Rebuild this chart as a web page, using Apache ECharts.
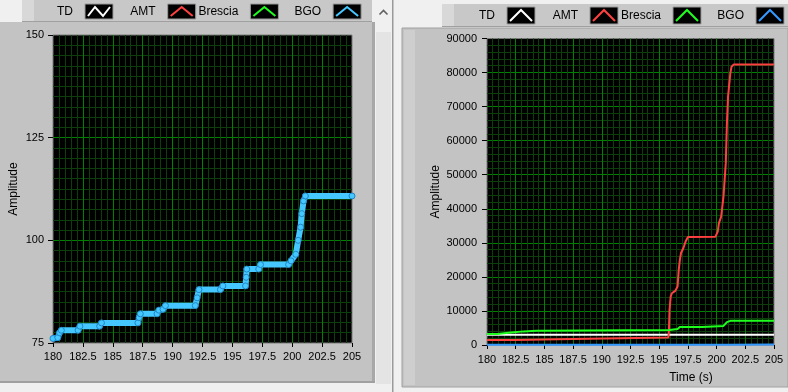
<!DOCTYPE html>
<html><head><meta charset="utf-8">
<script src="https://cdn.jsdelivr.net/npm/echarts@6/dist/echarts.min.js"></script>
<style>html,body{margin:0;padding:0;background:#f0f0f0;}#c{width:788px;height:392px;}</style>
</head><body><div id="c"></div>
<script>
// ---- data ----
const seriesNames = ['TD', 'AMT', 'Brescia', 'BGO'];
const seriesColors = ['#ffffff', '#ff4040', '#1eff1e', '#3399ff'];
const bgoLeftColor = '#44c8ff';

const timeMin = 180, timeMax = 205, timeStep = 2.5;
const leftAmpMin = 75, leftAmpMax = 150, leftAmpStep = 25;
const rightAmpMin = 0, rightAmpMax = 90000, rightAmpStep = 10000;
const yTitle = 'Amplitude';
const xTitle = 'Time (s)';

const tdData = [[180, 3000], [205, 3000]];

const amtData = [
  [180, 1450], [182.4, 1450], [182.5, 1820], [188.8, 1820], [188.9, 2170], [195.8, 2170],
  [195.85, 4400], [195.9, 10300], [196.0, 14200], [196.1, 15200], [196.4, 15900], [196.6, 17200],
  [196.7, 22000], [196.8, 25000], [196.9, 27000], [197.1, 28400], [197.3, 30400], [197.5, 31700],
  [199.9, 31800], [200.1, 33300], [200.2, 35800], [200.4, 37700], [200.5, 40700], [200.6, 43600],
  [200.7, 48500], [200.8, 53400], [200.85, 59300], [200.9, 65200], [201.0, 73000], [201.1, 76500],
  [201.2, 79900], [201.3, 81700], [201.5, 82400], [205, 82400]
];

const bresciaData = [
  [180, 3250], [180.9, 3250], [181.0, 3700], [182.1, 3700], [182.2, 4000], [183.2, 4000],
  [183.3, 4200], [184.3, 4200], [184.4, 4400], [195.9, 4400], [196.0, 4700], [196.6, 4700],
  [196.7, 5000], [196.8, 5300], [198.75, 5300], [198.85, 5600], [200.6, 5600], [200.7, 6100],
  [200.9, 6700], [201.2, 7100], [205, 7100]
];

const bgoData = [
  [180.0, 76.1], [180.4, 76.3], [180.55, 77.5], [180.7, 78.1], [182.1, 78.1], [182.25, 79.1],
  [183.9, 79.1], [184.05, 79.9], [187.1, 79.9], [187.2, 81.2], [187.3, 82.1], [188.7, 82.1],
  [188.85, 83.0], [189.2, 83.2], [189.4, 84.1], [191.9, 84.1], [192.05, 86.0], [192.2, 88.0],
  [194.0, 88.0], [194.2, 88.9], [196.1, 88.9], [196.15, 91.0], [196.2, 93.0], [197.2, 93.0],
  [197.35, 94.1], [199.7, 94.1], [199.9, 95.0], [200.3, 96.6], [200.5, 100.0], [200.7, 103.2],
  [200.8, 106.5], [200.95, 109.6], [201.1, 110.8], [205, 110.8]
];

const rightData = [tdData, amtData, bresciaData, bgoData];

// ---- styling helpers ----
const FONT = 'Liberation Sans, Arial, sans-serif';
const majorGrid = '#008200';
const minorGrid = '#0c3f0c';

function xAxisCfg(gridIndex, margin, showName) {
  return {
    type: 'value', gridIndex, min: timeMin, max: timeMax, interval: timeStep,
    axisLine: { show: false },
    axisTick: { show: true, length: 4, lineStyle: { color: '#000' } },
    axisLabel: { color: '#000', fontFamily: FONT, fontSize: 11, margin, interval: 0, formatter: v => String(v) },
    splitLine: { show: true, showMinLine: false, showMaxLine: false, lineStyle: { color: majorGrid, width: 1 } },
    minorTick: { show: false, splitNumber: 5 },
    minorSplitLine: { show: true, lineStyle: { color: minorGrid, width: 1 } },
    name: showName ? xTitle : '', nameLocation: 'middle', nameGap: 27,
    nameTextStyle: { color: '#000', fontFamily: FONT, fontSize: 12, padding: [0, 0, 0, 121] }
  };
}
function yAxisCfg(gridIndex, min, max, step, minorN, margin, nameGap) {
  return {
    type: 'value', gridIndex, min, max, interval: step,
    axisLine: { show: false },
    axisTick: { show: true, length: 5, lineStyle: { color: '#000' } },
    axisLabel: { color: '#000', fontFamily: FONT, fontSize: 11, margin, formatter: v => String(v) },
    splitLine: { show: true, showMinLine: false, showMaxLine: false, lineStyle: { color: majorGrid, width: 1 } },
    minorTick: { show: false, splitNumber: minorN },
    minorSplitLine: { show: true, lineStyle: { color: minorGrid, width: 1 } },
    name: yTitle, nameLocation: 'middle', nameGap,
    nameTextStyle: { color: '#000', fontFamily: FONT, fontSize: 12 }
  };
}

// ---- panel decorations (LabVIEW-like front panel) ----
const g = [];
function rect(x, y, w, h, fill, z, stroke) {
  g.push({ type: 'rect', shape: { x, y, width: w, height: h }, style: { fill, stroke: stroke || null, lineWidth: stroke ? 1 : 0 }, z: z == null ? -10 : z, silent: true });
}
// left graph frame
rect(0, 22, 375, 361, '#c3c3c3');
rect(372, 22, 3, 361, '#a8a8a8', -9);
rect(0, 381, 375, 2, '#a0a0a0', -9);
// left legend strip
rect(22, 0, 350, 22, '#c8c8c8', -9);
rect(22, 0, 12, 22, '#d8d8d8', -8);
rect(22, 21, 350, 1, '#a0a0a0', -8);
// scrollbar + separator
rect(375, 0, 17, 392, '#f0f0f0', -9);
rect(376, 32, 15, 352, '#e4e4e4', -8);
rect(392, 0, 1.5, 392, '#9a9a9a', -8);
g.push({ type: 'polyline', shape: { points: [[379.5, 14.5], [383.5, 10.5], [387.5, 14.5]] }, style: { stroke: '#606060', lineWidth: 1.6, fill: null }, z: -7, silent: true });
// right graph frame
rect(402, 28, 386, 359, '#c3c3c3', -9, '#a0a0a0');
rect(404, 30, 11, 355, '#cecece', -8);
// right legend strip
rect(442, 4, 346, 23, '#c8c8c8', -9);
rect(442, 4, 12, 23, '#d8d8d8', -8);
rect(442, 26, 346, 1, '#a0a0a0', -8);

// legends (one per graph), built from seriesNames/seriesColors
function legendRow(boxX0, step, boxY, boxH, textY, leftStyle) {
  seriesNames.forEach((name, i) => {
    const bx = boxX0 + i * step, bw = 28;
    g.push({ type: 'text', x: bx - 12, y: textY, style: { text: name, fill: '#000', font: '12px ' + FONT, textAlign: 'right', textVerticalAlign: 'middle' }, z: 5, silent: true });
    g.push({ type: 'rect', shape: { x: bx, y: boxY, width: bw, height: boxH }, style: { fill: '#000', stroke: '#9a9a9a', lineWidth: 1 }, z: 5, silent: true });
    let pts;
    if (leftStyle && i === 0) {
      pts = [[bx + 3, boxY + boxH - 3], [bx + 10, boxY + 3], [bx + 18, boxY + boxH - 3], [bx + 25, boxY + 3]];
    } else {
      pts = [[bx + 3, boxY + boxH - 3], [bx + bw / 2, boxY + 3], [bx + bw - 3, boxY + boxH - 3]];
    }
    const col = (leftStyle && i === 3) ? bgoLeftColor : seriesColors[i];
    g.push({ type: 'polyline', shape: { points: pts }, style: { stroke: col, lineWidth: 2, fill: null }, z: 6, silent: true });
  });
}
legendRow(85, 82.7, 4, 15, 12, true);
legendRow(507, 83, 7, 17, 15.5, false);

// ---- series ----
const series = [{
  name: 'BGO', type: 'line', xAxisIndex: 0, yAxisIndex: 0, data: bgoData,
  lineStyle: { color: bgoLeftColor, width: 6 },
  symbol: 'circle', symbolSize: 6, showSymbol: true,
  itemStyle: { color: bgoLeftColor, borderColor: '#1f86c8', borderWidth: 1 },
  animation: false
}];
rightData.forEach((d, i) => {
  series.push({
    name: seriesNames[i], type: 'line', xAxisIndex: 1, yAxisIndex: 1, data: d,
    lineStyle: { color: seriesColors[i], width: 2 }, showSymbol: false, symbol: 'none',
    z: 2 + i, animation: false
  });
});

const chart = echarts.init(document.getElementById('c'), null, { renderer: 'canvas' });
chart.setOption({
  backgroundColor: 'transparent',
  animation: false,
  grid: [
    { left: 53, top: 35, width: 299, height: 308, show: true, backgroundColor: '#000', borderColor: '#7a7a7a', borderWidth: 1, containLabel: false },
    { left: 487, top: 38.5, width: 287, height: 306.5, show: true, backgroundColor: '#000', borderColor: '#7a7a7a', borderWidth: 1, containLabel: false }
  ],
  xAxis: [xAxisCfg(0, 8, false), xAxisCfg(1, 9, true)],
  yAxis: [
    yAxisCfg(0, leftAmpMin, leftAmpMax, leftAmpStep, 10, 9, 33),
    yAxisCfg(1, rightAmpMin, rightAmpMax, rightAmpStep, 5, 10, 45)
  ],
  graphic: g,
  series
});
</script>
</body></html>
